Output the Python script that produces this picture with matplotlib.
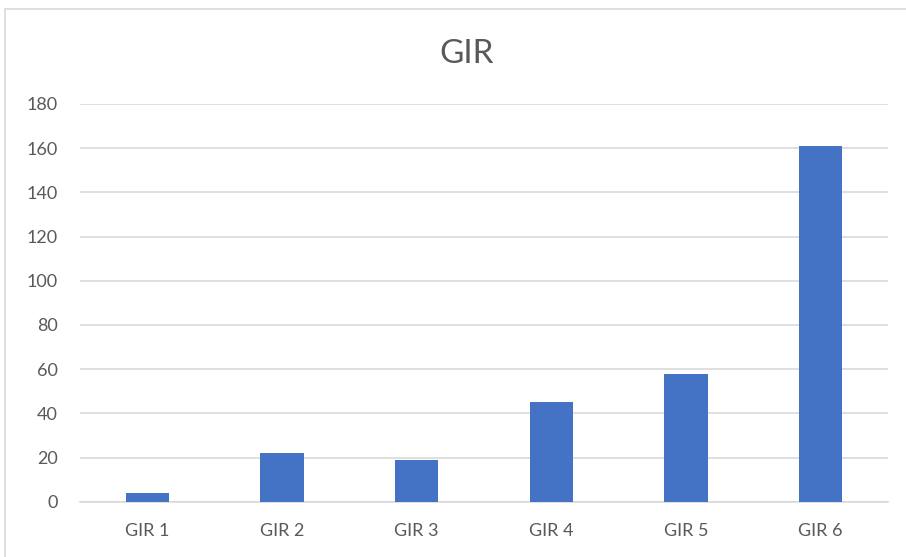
import matplotlib
matplotlib.use("Agg")
import matplotlib.pyplot as plt
from matplotlib.patches import Rectangle

# data
categories = ["GIR 1", "GIR 2", "GIR 3", "GIR 4", "GIR 5", "GIR 6"]
values = [4, 22, 19, 45, 58, 161]
y_ticks = [0, 20, 40, 60, 80, 100, 120, 140, 160, 180]

plt.rcParams['font.family'] = ['Lato', 'DejaVu Sans']

fig = plt.figure(figsize=(9.06, 5.57), dpi=100)

# light outer frame of the chart area (cropped right/bottom)
fig.patches.append(Rectangle((5 / 906, -0.1), 1.2, (557 - 9) / 557 + 0.1,
                             transform=fig.transFigure, fill=False,
                             edgecolor='#D9D9D9', linewidth=1.2))

ax = fig.add_axes([80 / 906, 55.3 / 557, 808 / 906, 397.7 / 557])

x = list(range(len(categories)))
ax.bar(x, values, width=0.32, color='#4472C4', zorder=3)

ax.set_xlim(-0.5, len(categories) - 0.5)
ax.set_ylim(0, 180)
ax.set_yticks(y_ticks)
ax.set_xticks(x)
ax.set_xticklabels(categories)

ax.grid(axis='y', color='#D9D9D9', linewidth=1.2, zorder=0)
for side in ['top', 'right', 'left']:
    ax.spines[side].set_visible(False)
ax.spines['bottom'].set_color('#D9D9D9')
ax.spines['bottom'].set_linewidth(1.2)

ax.tick_params(axis='both', length=0, labelcolor='#595959', labelsize=13)
ax.tick_params(axis='y', pad=16)
ax.tick_params(axis='x', pad=15)

fig.text(467 / 906, 1 - 54 / 557, "GIR", ha='center', va='center',
         fontsize=24, color='#595959')

fig.savefig("out.png", dpi=100)
